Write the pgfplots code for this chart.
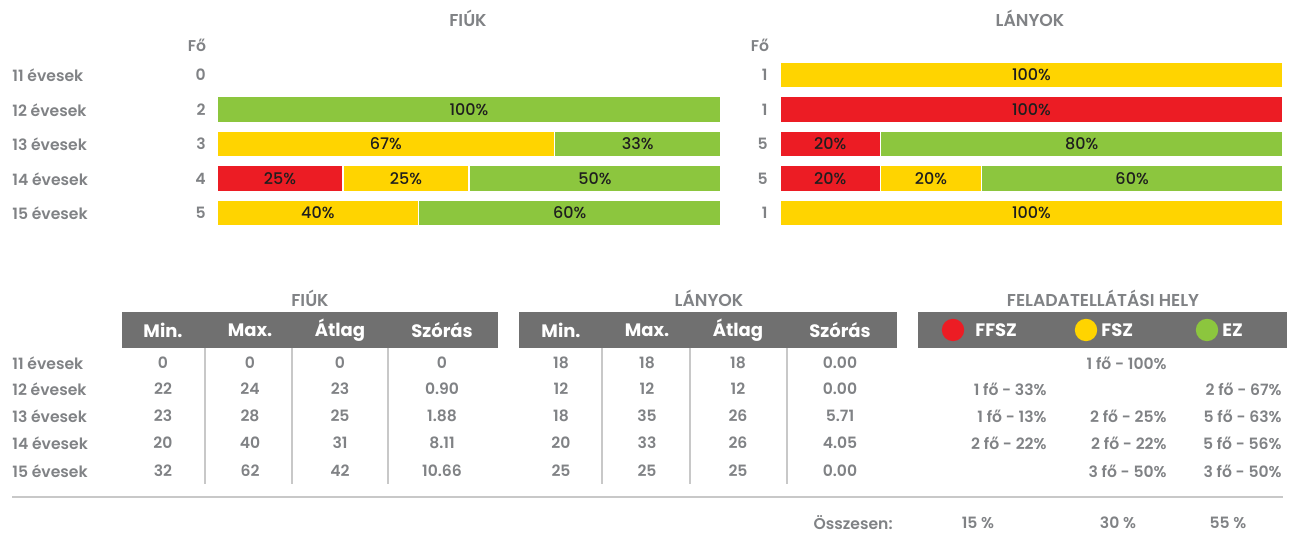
\documentclass[border=0pt]{standalone}
\usepackage{pgfplots}
\pgfplotsset{compat=1.18}
\usepackage{pgfplotstable}
\usepackage{fontspec}
\setmainfont{Poppins}[UprightFont={* SemiBold}, BoldFont={* Bold}]
\newfontfamily\medfont{Poppins Medium}
\definecolor{cred}{HTML}{EC1C24}
\definecolor{cyel}{HTML}{FFD400}
\definecolor{cgrn}{HTML}{8CC63E}
\definecolor{hgray}{HTML}{707070}
\definecolor{tgray}{HTML}{808285}
\definecolor{lgray}{HTML}{C8C8C8}
\definecolor{dtext}{HTML}{1E1E1E}

% row r(FFSZ) y(FSZ) g(EZ)
\pgfplotstableread{
row r y g
1 0 0 0
2 0 0 100
3 0 67 33
4 25 25 50
5 0 40 60
}\fiuk
\pgfplotstableread{
row r y g
1 0 100 0
2 100 0 0
3 20 0 80
4 20 20 60
5 0 100 0
}\lanyok

\newcommand{\fnt}{\fontsize{7.8}{10}\selectfont}
\newcommand{\tfnt}{\fontsize{8.6}{10}\selectfont}
\newcommand{\hfnt}{\fontsize{9}{11}\selectfont\bfseries}
\pgfplotsset{
  barax/.style={anchor=north west, scale only axis, height=86.25pt,
    xmin=0, xmax=100, ymin=0.5, ymax=5.5, y dir=reverse,
    axis lines=none, ticks=none, clip=false},
  seg/.style={fill=#1, draw=white, line width=0.7pt},
  lbl/.style={only marks, mark=none, nodes near coords, point meta=explicit symbolic,
    every node near coord/.append style={anchor=center, inner sep=0pt, text=dtext, font=\medfont\fontsize{8}{10}\selectfont}},
}

\begin{document}
\begin{tikzpicture}
\begin{scope}[x=0.5pt,y=0.5pt, every node/.style={text=tgray, font=\fnt, inner sep=0pt}]
\useasboundingbox (0,0) rectangle (1291,-533);

% ---------- top charts: labels ----------
\node[font=\tfnt] at (468,-18) {FIÚK};
\node[font=\tfnt] at (1030,-18) {LÁNYOK};
\node at (197,-45) {Fő};
\node at (760,-45) {Fő};
\foreach \lab/\y in {11 évesek/75, 12 évesek/110, 13 évesek/144, 14 évesek/179, 15 évesek/213}
  \node[anchor=west] at (12,-\y) {\lab};
\foreach \c/\y in {0/75, 2/110, 3/144, 4/179, 5/213}
  \node[anchor=east] at (206,-\y) {\c};
\foreach \c/\y in {1/75, 1/110, 5/144, 5/179, 1/213}
  \node[anchor=east] at (768,-\y) {\c};

% ---------- bottom tables ----------
\node[font=\tfnt] at (310,-298) {FIÚK};
\node[font=\tfnt] at (709,-298) {LÁNYOK};
\node[font=\tfnt] at (1103,-298) {FELADATELLÁTÁSI HELY};

\fill[hgray] (122,-312) rectangle (498,-348);
\fill[hgray] (519,-312) rectangle (897,-348);
\fill[hgray] (918,-312) rectangle (1287,-348);

\foreach \h/\x in {Min./163, Max./250, Átlag/340, Szórás/442, Min./561, Max./647, Átlag/738, Szórás/840}
  \node[text=white, font=\hfnt] at (\x,-330) {\h};

\fill[cred] (953,-330) circle[radius=5.6pt];
\fill[cyel] (1086,-330) circle[radius=5.6pt];
\fill[cgrn] (1207,-330) circle[radius=5.6pt];
\node[anchor=west, text=white, font=\hfnt] at (975,-330) {FFSZ};
\node[anchor=west, text=white, font=\hfnt] at (1101,-330) {FSZ};
\node[anchor=west, text=white, font=\hfnt] at (1222,-330) {EZ};

\foreach \x in {205,292,388,602,690,787}
  \draw[lgray, line width=1pt] (\x,-348) -- (\x,-484);

\foreach \lab/\y in {11 évesek/363, 12 évesek/389, 13 évesek/416, 14 évesek/443, 15 évesek/471}
  \node[anchor=west] at (12,-\y) {\lab};

\foreach \a/\b/\c/\d/\e/\f/\g/\h/\y in {
  0/0/0/0/18/18/18/0.00/363,
  22/24/23/0.90/12/12/12/0.00/389,
  23/28/25/1.88/18/35/26/5.71/416,
  20/40/31/8.11/20/33/26/4.05/443,
  32/62/42/10.66/25/25/25/0.00/471}{
  \node at (163,-\y) {\a};
  \node at (250,-\y) {\b};
  \node at (340,-\y) {\c};
  \node at (442,-\y) {\d};
  \node at (561,-\y) {\e};
  \node at (647,-\y) {\f};
  \node at (738,-\y) {\g};
  \node at (840,-\y) {\h};
}

\node[anchor=east] at (1167,-363) {1 fő - 100\%};
\node[anchor=east] at (1047,-389) {1 fő - 33\%};
\node[anchor=east] at (1282,-389) {2 fő - 67\%};
\node[anchor=east] at (1047,-416) {1 fő - 13\%};
\node[anchor=east] at (1167,-416) {2 fő - 25\%};
\node[anchor=east] at (1282,-416) {5 fő - 63\%};
\node[anchor=east] at (1047,-443) {2 fő - 22\%};
\node[anchor=east] at (1167,-443) {2 fő - 22\%};
\node[anchor=east] at (1282,-443) {5 fő - 56\%};
\node[anchor=east] at (1167,-471) {3 fő - 50\%};
\node[anchor=east] at (1282,-471) {3 fő - 50\%};

\draw[lgray, line width=1pt] (12,-497) -- (1283,-497);

\node[anchor=east] at (893,-523) {Összesen:};
\node at (978,-523) {15 \%};
\node at (1118,-523) {30 \%};
\node at (1228,-523) {55 \%};
\end{scope}

% ---------- bar axes ----------
\begin{axis}[barax, at={(108.5pt,-28.875pt)}, width=252pt, xbar stacked, bar width=0.76]
\addplot[seg=cred] table[x=r, y=row] {\fiuk};
\addplot[seg=cyel] table[x=y, y=row] {\fiuk};
\addplot[seg=cgrn] table[x=g, y=row] {\fiuk};
\end{axis}
\begin{axis}[barax, at={(108.5pt,-28.875pt)}, width=252pt]
\addplot[lbl] coordinates {(50,2) [100\%] (33.5,3) [67\%] (83.5,3) [33\%]
  (12.5,4) [25\%] (37.5,4) [25\%] (75,4) [50\%] (20,5) [40\%] (70,5) [60\%]};
\end{axis}

\begin{axis}[barax, at={(390pt,-28.875pt)}, width=251.5pt, xbar stacked, bar width=0.76]
\addplot[seg=cred] table[x=r, y=row] {\lanyok};
\addplot[seg=cyel] table[x=y, y=row] {\lanyok};
\addplot[seg=cgrn] table[x=g, y=row] {\lanyok};
\end{axis}
\begin{axis}[barax, at={(390pt,-28.875pt)}, width=251.5pt]
\addplot[lbl] coordinates {(50,1) [100\%] (50,2) [100\%] (10,3) [20\%] (60,3) [80\%]
  (10,4) [20\%] (30,4) [20\%] (70,4) [60\%] (50,5) [100\%]};
\end{axis}
\end{tikzpicture}
\end{document}
